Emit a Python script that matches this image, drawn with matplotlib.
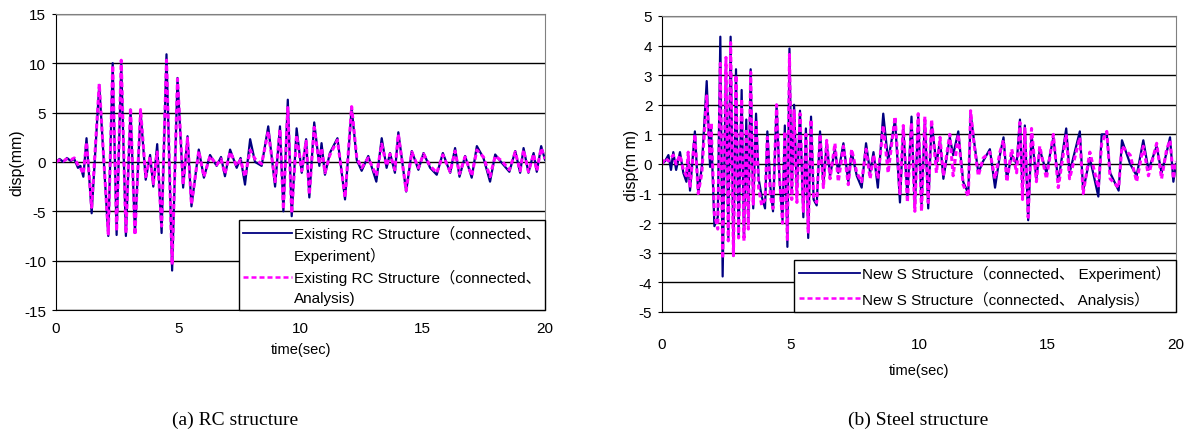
"""
Time histories of displacement: RC structure and steel structure (experiment vs analysis).
"""
import matplotlib
matplotlib.use("Agg")
import matplotlib.pyplot as plt
from matplotlib.lines import Line2D
from matplotlib import font_manager

# ---- data (turning points of each trace) ----
rc_time = [0.0, 0.15, 0.3, 0.45, 0.6, 0.75, 0.9, 1.0, 1.12, 1.25, 1.46, 1.77, 2.14, 2.32, 2.48,
           2.67, 2.86, 3.05, 3.23, 3.46, 3.67, 3.85, 3.98, 4.14, 4.32, 4.52, 4.75, 4.97, 5.2,
           5.38, 5.54, 5.84, 6.05, 6.3, 6.57, 6.75, 6.91, 7.12, 7.39, 7.55, 7.73, 7.94, 8.14,
           8.41, 8.68, 8.96, 9.16, 9.30, 9.48, 9.64, 9.84, 10.05, 10.23, 10.36, 10.56, 10.77,
           10.86, 11.0, 11.2, 11.51, 11.82, 12.09, 12.3, 12.5, 12.77, 13.1, 13.32, 13.52, 13.66,
           13.86, 14.0, 14.32, 14.55, 14.82, 15.03, 15.3, 15.57, 15.82, 16.12, 16.32, 16.5,
           16.73, 17.0, 17.21, 17.48, 17.75, 17.96, 18.23, 18.54, 18.78, 18.98, 19.12, 19.32,
           19.53, 19.66, 19.84, 20.0]
rc_exp = [0.0, 0.3, 0.0, 0.4, 0.1, 0.3, -0.6, -0.4, -1.5, 2.4, -5.2, 7.8, -7.5, 10.0, -7.4,
          9.9, -7.5, 5.3, -7.2, 5.1, -1.8, 0.7, -2.5, 1.8, -7.2, 10.9, -11.0, 8.5, -2.6,
          2.6, -4.5, 1.25, -1.6, 0.7, -0.4, 0.5, -1.45, 1.25, -0.6, 0.4, -2.3, 2.3, 0.0,
          -0.4, 3.6, -2.5, 3.6, -5.0, 6.3, -5.5, 3.4, -1.1, 2.3, -3.6, 4.0, -0.4,
          1.9, -1.3, 0.9, 2.4, -3.8, 5.5, 0.2, -0.9, 0.6, -2.0, 2.4, -0.6, 0.9,
          -1.1, 3.0, -3.0, 1.1, -0.8, 0.9, -0.6, -1.3, 0.9, -1.1, 1.4, -1.5,
          0.6, -1.6, 1.6, 0.4, -2.0, 0.75, -0.1, -1.0, 1.1, -1.1, 1.4, -1.1,
          0.9, -1.0, 1.6, 0.2]
rc_ana = [0.0, 0.2, 0.1, 0.3, 0.2, 0.4, -0.3, -0.6, -1.2, 2.0, -4.6, 7.9, -7.3, 9.8, -7.0,
          10.3, -7.2, 5.5, -7.4, 5.3, -1.5, 0.5, -2.2, 1.0, -6.5, 10.3, -10.4, 8.4, -2.3,
          2.4, -4.3, 1.1, -1.5, 0.6, -0.3, 0.3, -1.2, 1.0, -0.4, 0.2, -1.5, 1.2, 0.3,
          -0.2, 3.1, -2.0, 3.3, -4.8, 5.5, -5.2, 2.7, -0.9, 2.1, -3.3, 3.5, -0.2,
          1.4, -1.1, 0.7, 2.2, -3.6, 5.6, 0.4, -0.6, 0.4, -1.4, 1.8, -0.4, 0.8,
          -0.8, 2.8, -2.9, 1.0, -0.6, 0.8, -0.4, -1.1, 0.7, -1.0, 1.1, -1.2,
          0.5, -1.4, 1.2, 0.5, -1.5, 0.6, 0.1, -0.8, 1.0, -0.9, 1.2, -1.0,
          0.8, -0.9, 1.4, 0.3]

s_time = [0.0, 0.12, 0.25, 0.35, 0.44, 0.55, 0.70, 0.83, 0.95, 1.02, 1.09, 1.28, 1.41, 1.55,
          1.74, 1.87, 1.91, 2.04, 2.17, 2.27, 2.36, 2.49, 2.58, 2.67, 2.78, 2.88, 2.98, 3.10,
          3.19, 3.28, 3.36, 3.45, 3.55, 3.66, 3.76, 3.88, 4.01, 4.10, 4.22, 4.32, 4.46, 4.57,
          4.69, 4.78, 4.88, 4.96, 5.05, 5.14, 5.25, 5.37, 5.50, 5.60, 5.69, 5.80, 5.90, 6.02,
          6.15, 6.28, 6.41, 6.54, 6.73, 6.86, 7.06, 7.25, 7.38, 7.58, 7.77, 7.94, 8.10, 8.23,
          8.40, 8.61, 8.80, 9.07, 9.26, 9.39, 9.55, 9.71, 9.84, 9.97, 10.10, 10.23, 10.36,
          10.49, 10.68, 10.82, 10.95, 11.20, 11.33, 11.53, 11.72, 11.92, 12.01, 12.14, 12.31,
          12.50, 12.76, 12.96, 13.15, 13.29, 13.42, 13.61, 13.80, 13.93, 14.03, 14.12, 14.25,
          14.38, 14.57, 14.70, 14.96, 15.23, 15.42, 15.73, 15.86, 16.26, 16.39, 16.65, 16.98,
          17.11, 17.31, 17.44, 17.77, 17.90, 18.22, 18.47, 18.73, 18.93, 19.25, 19.44, 19.64,
          19.77, 19.90, 20.00]
s_exp = [0.0, 0.1, 0.3, -0.2, 0.4, -0.2, 0.4, -0.3, -0.6, 0.3, -0.9, 1.1, -1.0, -0.1,
         2.8, -0.1, 1.2, -2.1, -1.8, 4.3, -3.8, 3.4, -2.5, 4.3, -3.1, 3.2, -2.4, 2.5,
         -2.5, 1.5, -2.0, 3.2, -1.5, 1.7, -0.5, -1.1, -1.5, 1.1, -0.8, -1.6, 2.0, -0.5,
         -1.9, 1.3, -2.8, 3.9, -1.0, 2.0, -1.0, 1.8, -1.8, 1.2, -2.5, 1.6, -1.2, -1.4,
         1.1, -0.7, 0.7, -0.4, 0.5, -0.3, 0.7, -0.6, 0.4, -0.4, -0.8, 0.7, -0.3, 0.4,
         -0.8, 1.7, 0.1, 1.5, -1.3, 1.2, -1.1, 1.6, -1.5, 1.6, -1.4, 1.5, -1.5,
         1.4, 0.0, 0.8, -0.5, 0.9, 0.3, 1.1, -0.6, -1.0, 1.7, 0.8, -0.3,
         0.1, 0.5, -0.8, 0.3, 0.9, -0.5, 0.3, 0.0, 1.5, -1.0, 1.3, -1.9,
         1.0, -0.5, 0.5, -0.3, 0.9, -0.6, 1.2, -0.3, 1.1, -0.9, 0.2, -1.1,
         1.0, 1.0, -0.3, -0.9, 0.8, 0.0, -0.4, 0.8, -0.2, 0.6, -0.3, 0.4,
         0.9, -0.6, 0.0]
s_ana = [0.0, 0.2, 0.1, 0.2, 0.3, 0.0, 0.3, -0.2, -0.4, 0.4, -0.8, 1.0, -1.0, -0.3,
         2.3, 0.2, 1.4, -1.7, -2.2, 3.4, -3.2, 3.6, -2.6, 4.1, -3.1, 3.0, -2.5, 2.2,
         -2.6, 1.2, -2.2, 3.1, -1.4, 1.5, -0.8, -1.4, -1.2, 0.9, -1.1, -1.5, 2.0, -0.4,
         -2.0, 1.1, -2.6, 3.7, -1.2, 1.8, -1.3, 1.7, -1.6, 1.0, -2.3, 1.5, -1.1, -1.3,
         1.0, -0.8, 0.8, -0.5, 0.7, -0.6, 0.6, -0.7, 0.5, -0.3, -0.6, 0.5, -0.5, 0.3,
         -0.5, 1.3, -0.3, 1.6, -1.0, 1.3, -1.3, 1.4, -1.6, 1.7, -1.6, 1.6, -1.3,
         1.5, -0.3, 0.9, -0.4, 1.0, -0.4, 1.0, -0.7, -1.1, 1.8, 0.7, -0.4,
         0.2, 0.4, -0.5, 0.4, 0.8, -0.6, 0.5, -0.3, 1.4, -1.2, 1.2, -1.8,
         1.2, -0.6, 0.6, -0.5, 1.0, -0.8, 1.0, -0.5, 0.9, -1.0, 0.4, -0.8,
         0.7, 1.1, -0.5, -0.8, 0.6, 0.3, -0.6, 0.6, -0.4, 0.7, -0.5, 0.5,
         0.8, -0.5, 0.1]

rc_yticks = [-15, -10, -5, 0, 5, 10, 15]
s_yticks = [-5, -4, -3, -2, -1, 0, 1, 2, 3, 4, 5]
xticks = [0, 5, 10, 15, 20]

rc_labels = ["Existing RC Structure（connected、", "Experiment）",
             "Existing RC Structure（connected、", "Analysis)"]
s_labels = ["New S Structure（connected、 Experiment）",
            "New S Structure（connected、 Analysis）"]

# ---- fonts ----
installed = {f.name for f in font_manager.fontManager.ttflist}
narrow = "Liberation Sans Narrow" if "Liberation Sans Narrow" in installed else "Liberation Sans"
plt.rcParams["font.family"] = [narrow, "Noto Sans CJK JP", "DejaVu Sans"]
plt.rcParams["axes.unicode_minus"] = False

EXP_C = "#000080"
ANA_C = "#ff00ff"
EXP_LW = 1.6
ANA_LW = 2.2
ANA_LS = (0, (1.6, 1.0))


def style_axes(ax, yticks, ylabel, tick_pad, xlabel_pad):
    ax.set_xlim(0, 20)
    ax.set_ylim(yticks[0], yticks[-1])
    ax.set_xticks(xticks)
    ax.set_yticks(yticks)
    ax.yaxis.grid(True, color="black", linewidth=1.0)
    ax.set_axisbelow(True)
    ax.tick_params(axis="x", length=0, pad=tick_pad, labelsize=11)
    ax.tick_params(axis="y", length=3, direction="out", labelsize=11, pad=4)
    ax.spines["left"].set_color("black")
    ax.spines["bottom"].set_color("black")
    for s in ("top", "right"):
        ax.spines[s].set_color("#808080")
    ax.set_xlabel("time(sec)", fontsize=10.5, labelpad=xlabel_pad)
    ax.set_ylabel(ylabel, fontsize=11.5, labelpad=0)


fig = plt.figure(figsize=(11.93, 4.35), dpi=100)

# (a) RC structure
ax1 = fig.add_axes([0.0469, 0.285, 0.41, 0.681])
ax1.plot(rc_time, rc_exp, color=EXP_C, linewidth=EXP_LW)
ax1.plot(rc_time, rc_ana, color=ANA_C, linewidth=ANA_LW, linestyle=ANA_LS)
style_axes(ax1, rc_yticks, "disp(mm)", 8, 5)
blank = Line2D([], [], linestyle="none")
h1 = [Line2D([], [], color=EXP_C, linewidth=1.3), blank,
      Line2D([], [], color=ANA_C, linewidth=1.8, linestyle=(0, (2, 1.2))), blank]
leg1 = ax1.legend(h1, rc_labels, loc="lower right", bbox_to_anchor=(1.0, 0.0),
                  borderaxespad=0, fontsize=11, frameon=True, fancybox=False,
                  edgecolor="black", framealpha=1, handlelength=3.2, handletextpad=0.1,
                  labelspacing=0.4, borderpad=0.3)
leg1.get_frame().set_linewidth(1.0)

# (b) Steel structure
ax2 = fig.add_axes([0.5549, 0.2805, 0.4308, 0.6805])
ax2.plot(s_time, s_exp, color=EXP_C, linewidth=EXP_LW)
ax2.plot(s_time, s_ana, color=ANA_C, linewidth=ANA_LW, linestyle=ANA_LS)
style_axes(ax2, s_yticks, "disp(m m)", 18, 9)
h2 = [Line2D([], [], color=EXP_C, linewidth=1.3),
      Line2D([], [], color=ANA_C, linewidth=1.8, linestyle=(0, (2, 1.2)))]
leg2 = ax2.legend(h2, s_labels, loc="lower right", bbox_to_anchor=(1.0, 0.0),
                  borderaxespad=0, fontsize=11, frameon=True, fancybox=False,
                  edgecolor="black", framealpha=1, handlelength=4.0, handletextpad=0.1,
                  labelspacing=0.6, borderpad=0.35)
leg2.get_frame().set_linewidth(1.0)

serif = ["Liberation Serif", "DejaVu Serif"]
fig.text(235 / 1193, 1 - 420 / 435, "(a) RC structure", ha="center", va="center",
         fontsize=14, family=serif)
fig.text(918 / 1193, 1 - 420 / 435, "(b) Steel structure", ha="center", va="center",
         fontsize=14, family=serif)

fig.savefig("out.png", dpi=100)
